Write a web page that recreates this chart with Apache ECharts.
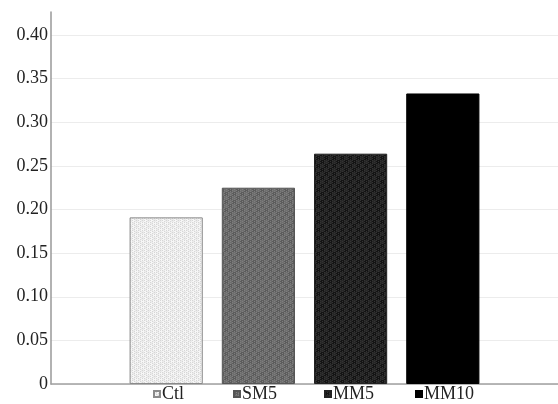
<!DOCTYPE html>
<html><head><meta charset="utf-8">
<script src="https://cdn.jsdelivr.net/npm/echarts@6/dist/echarts.min.js"></script>
<style>html,body{margin:0;padding:0;background:#fff}#c{width:558px;height:404px}</style>
</head><body><div id="c"></div>
<script>
const categories = [''];
const seriesNames = ['Ctl', 'SM5', 'MM5', 'MM10'];
const seriesValues = [0.191, 0.225, 0.264, 0.333];
const yTicks = [0, 0.05, 0.10, 0.15, 0.20, 0.25, 0.30, 0.35, 0.40];

function pattern(base, a, b, size, dot) {
  const c = document.createElement('canvas');
  c.width = size * 2; c.height = size * 2;
  const g = c.getContext('2d');
  g.fillStyle = base; g.fillRect(0, 0, c.width, c.height);
  g.fillStyle = a; g.fillRect(0, 0, size, size); g.fillRect(size, size, size, size);
  if (b) { g.fillStyle = b; for (let i = 0; i < c.width; i += dot) for (let j = (i/dot)%2 ? dot/2 : 0; j < c.height; j += dot) g.fillRect(i, j, 1, 1); }
  return { image: c, repeat: 'repeat' };
}
const fills = [
  pattern('#f6f6f6', '#ebebeb', '#d6d6d6', 3, 2),
  pattern('#6e6e6e', '#5c5c5c', '#7e7e7e', 4, 2),
  pattern('#262626', '#141414', '#333333', 4, 2),
  '#000000'
];
const borders = ['#8a8a8a', '#555555', '#222222', '#000000'];
const legendLefts = [153, 233, 324, 415];

const chart = echarts.init(document.getElementById('c'));
chart.setOption({
  animation: false,
  grid: { left: 51, right: 0, top: 12, bottom: 20, containLabel: false },
  legend: seriesNames.map((n, i) => ({
    top: 385, left: legendLefts[i], padding: 0,
    itemWidth: 6, itemHeight: 6,
    icon: 'rect',
    textStyle: { fontFamily: 'Liberation Serif', fontSize: 18, color: '#222', padding: [0,0,0,-3] },
    data: [n]
  })),
  xAxis: {
    type: 'category', data: categories,
    axisLine: { lineStyle: { color: '#a0a0a0', width: 1.5 } },
    axisTick: { show: false }, axisLabel: { show: false }
  },
  yAxis: {
    type: 'value', min: 0, max: 0.4264, interval: 0.05,
    axisLine: { show: true, lineStyle: { color: '#999', width: 1.5 } },
    axisTick: { show: false },
    axisLabel: {
      margin: 3, fontFamily: 'Liberation Serif', fontSize: 18, color: '#222',
      formatter: v => { const t = yTicks.find(x => Math.abs(x - v) < 1e-6); return t === undefined ? '' : (t === 0 ? '0' : t.toFixed(2)); }
    },
    splitLine: { showMaxLine: false, lineStyle: { color: '#ececec', width: 1 } }
  },
  series: seriesNames.map((n, i) => ({
    name: n, type: 'bar', data: [seriesValues[i]],
    barGap: '26%', barCategoryGap: '31%',
    itemStyle: { color: fills[i], borderColor: borders[i], borderWidth: 1 }
  }))
});
</script></body></html>
